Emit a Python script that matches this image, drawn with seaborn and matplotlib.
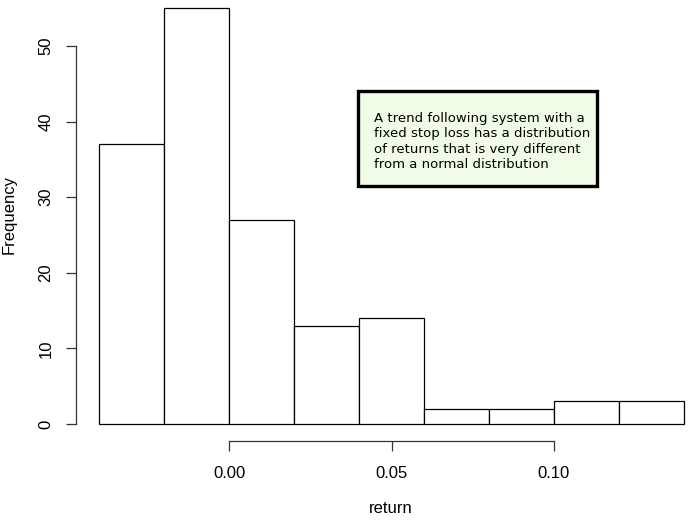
import matplotlib
matplotlib.use("Agg")
import matplotlib.pyplot as plt
import matplotlib.patches as mpatches
import numpy as np
import seaborn as sns

bin_edges = [-0.04, -0.02, 0.00, 0.02, 0.04, 0.06, 0.08, 0.10, 0.12, 0.14]
counts = [37, 55, 27, 13, 14, 2, 2, 3, 3]
x_ticks = [0.00, 0.05, 0.10]
x_tick_labels = ["0.00", "0.05", "0.10"]
y_ticks = [0, 10, 20, 30, 40, 50]
note = ("A trend following system with a\nfixed stop loss has a distribution\n"
        "of returns that is very different\nfrom a normal distribution")

sns.set_style("white")
plt.rcParams["font.family"] = ["Liberation Sans", "DejaVu Sans"]
plt.rcParams["text.color"] = "black"
plt.rcParams["axes.labelcolor"] = "black"
plt.rcParams["xtick.color"] = "black"
plt.rcParams["ytick.color"] = "black"

W, H = 693, 522
fig = plt.figure(figsize=(W / 100, H / 100), dpi=100)
left_px, bottom_px = 75.6, 440.6
ax = fig.add_axes([left_px / W, (H - bottom_px) / H, 1 - left_px / W, bottom_px / H])

centers = [(a + b) / 2 for a, b in zip(bin_edges[:-1], bin_edges[1:])]
sns.histplot(x=centers, weights=counts, bins=bin_edges, ax=ax,
             color="white", edgecolor="black", linewidth=0.9, alpha=1)

px_per_x = 65 / 0.02
ax.set_xlim(-0.0472, -0.0472 + (W - left_px) / px_per_x)
px_per_y = 7.56
ax.set_ylim(-2.2, -2.2 + bottom_px / px_per_y)

for s in ["top", "right"]:
    ax.spines[s].set_visible(False)
ax.spines["left"].set_bounds(0, 50)
ax.spines["bottom"].set_bounds(0, 0.10)
for s in ["left", "bottom"]:
    ax.spines[s].set_color("#333333")
    ax.spines[s].set_linewidth(0.9)

ax.set_xticks(x_ticks)
ax.set_xticklabels(x_tick_labels)
ax.set_yticks(y_ticks)
ax.set_yticklabels([str(v) for v in y_ticks], rotation=90, va="center")
ax.tick_params(axis="both", direction="out", length=7, width=0.9, color="#333333",
               labelsize=12, labelcolor="black", left=True, bottom=True)
ax.tick_params(axis="x", pad=11)
ax.tick_params(axis="y", pad=9)
ax.set_xlabel("return", fontsize=12, labelpad=15, color="black")
ax.set_ylabel("Frequency", fontsize=12, labelpad=16, color="black")
ax.xaxis.label.set_x((391 - left_px) / (W - left_px))
ax.yaxis.label.set_y((bottom_px - 215) / bottom_px)
ax.grid(False)

rect = mpatches.Rectangle((358 / W, 1 - 186 / H), (597 - 358) / W, (186 - 91) / H,
                          transform=fig.transFigure, facecolor="#F1FCE8",
                          edgecolor="black", linewidth=2.4, zorder=5)
fig.add_artist(rect)
fig.text(374 / W, 1 - 112 / H, note, fontsize=9.5, family="DejaVu Sans",
         va="top", ha="left", linespacing=1.24, zorder=6, color="black")

fig.savefig("out.png", dpi=100)
